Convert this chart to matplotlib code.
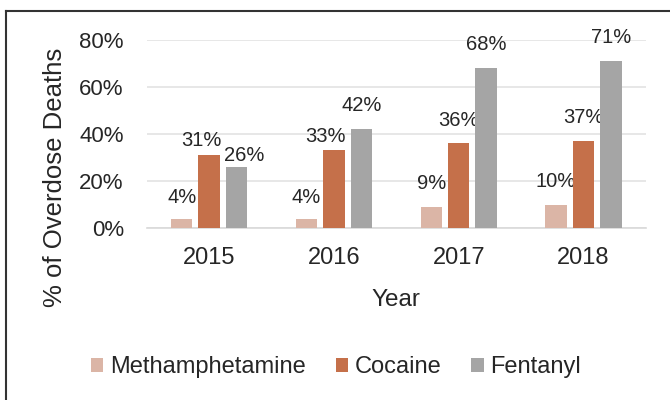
import numpy as np
import matplotlib.pyplot as plt
from matplotlib.lines import Line2D

plt.rcParams['font.family'] = ['Liberation Sans', 'DejaVu Sans']

years = ["2015", "2016", "2017", "2018"]
series = ["Methamphetamine", "Cocaine", "Fentanyl"]
meth = [4, 4, 9, 10]
cocaine = [31, 33, 36, 37]
fentanyl = [26, 42, 68, 71]
colors = ["#dbb5a6", "#c5704a", "#a5a5a5"]

# hand-placed data labels in the original (series index, year index) -> (dx, dy) points
label_nudge = {(1, 0): (-5.8, 3.6), (2, 0): (5.4, 1.5), (1, 1): (-5.8, 2.9)}

text_color = "#262626"

fig = plt.figure(figsize=(6.7, 4.0), dpi=100)
ax = fig.add_axes([0.219, 0.43, 0.745, 0.47])

x = np.arange(len(years))
width = 0.172
offsets = [-0.22, 0.0, 0.22]

for i, (vals, name, col, off) in enumerate(zip([meth, cocaine, fentanyl], series, colors, offsets)):
    fracs = np.array(vals) / 100.0
    bars = ax.bar(x + off, fracs, width, color=col, label=name, zorder=3)
    for j, (b, v) in enumerate(zip(bars, vals)):
        dx, dy = label_nudge.get((i, j), (0, 8.6 if i == 0 and j < 2 else 10))
        ax.annotate(f"{v}%", (b.get_x() + b.get_width() / 2, b.get_height()),
                    xytext=(dx, dy), textcoords="offset points",
                    ha="center", va="bottom", fontsize=14.5, color=text_color)

ax.set_xlim(-0.5, 3.5)
ax.set_ylim(0, 0.8)
ax.set_yticks([0, 0.2, 0.4, 0.6, 0.8])
ax.set_yticklabels(["0%", "20%", "40%", "60%", "80%"])
ax.set_xticks(x)
ax.set_xticklabels(years)
ax.tick_params(axis="y", length=0, labelsize=16, colors=text_color, pad=16.5)
ax.tick_params(axis="x", length=0, labelsize=17, colors=text_color, pad=14)
ax.grid(axis="y", color="#e3e3e3", linewidth=1.2, zorder=0)
for side in ["top", "right", "left"]:
    ax.spines[side].set_visible(False)
ax.spines["bottom"].set_color("#d9d9d9")
ax.spines["bottom"].set_linewidth(1.2)

ax.set_xlabel("Year", fontsize=17.5, color=text_color, labelpad=14)
fig.text(55.5 / 670, 1 - 177.5 / 400, "% of Overdose Deaths", rotation=90,
         ha="center", va="center", fontsize=18.5, color=text_color)

leg = fig.legend(loc="center", bbox_to_anchor=(336 / 670, 1 - 367 / 400), ncol=3,
                 frameon=False, fontsize=17, handlelength=0.53, handleheight=0.53,
                 handletextpad=0.28, columnspacing=1.27, borderpad=0)
for t in leg.get_texts():
    t.set_color(text_color)

# outer frame (top and left edges visible)
fig.add_artist(Line2D([6 / 670, 1], [1 - 11 / 400, 1 - 11 / 400],
                      color="#333333", linewidth=1.5, transform=fig.transFigure))
fig.add_artist(Line2D([6 / 670, 6 / 670], [0, 1 - 11 / 400],
                      color="#333333", linewidth=1.5, transform=fig.transFigure))

fig.savefig("out.png", dpi=100)
